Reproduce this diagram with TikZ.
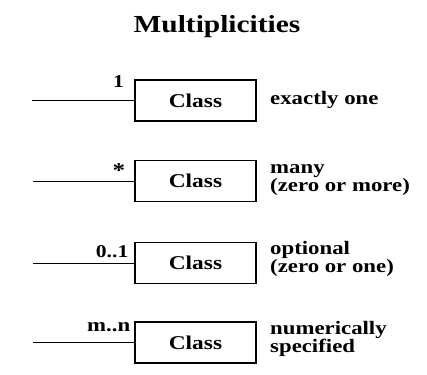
\documentclass[tikz,border=0pt]{standalone}
\usepackage{fontspec}
\setmainfont[FakeStretch=1.2]{Liberation Serif}
\begin{document}
\begin{tikzpicture}[x=1pt,y=-1pt,
  classbox/.style={draw,line width=1.2pt,minimum width=121pt,minimum height=41pt,inner sep=0pt,font=\fontsize{19.5}{19.5}\selectfont\bfseries},
  mult/.style={anchor=base east,inner sep=0pt,font=\fontsize{18}{18}\selectfont\bfseries},
  desc/.style={anchor=north west,inner sep=0pt,align=left,font=\fontsize{19}{14.5}\selectfont\bfseries},
  assoc/.style={line width=0.9pt}]
\useasboundingbox (0,0) rectangle (427,374);
\node[font=\fontsize{24.5}{24.5}\selectfont\bfseries,anchor=base] (title) at (217,33) {Multiplicities};
% row 1
\node[classbox] (c1) at (195.5,100.5) {Class};
\coordinate (e1) at (32,100.5);
\draw[assoc] (e1) -- (c1.west);
\node[mult] (m1) at (124,88) {1};
\node[desc,anchor=base west] (d1) at (270,105) {exactly one};
% row 2
\node[classbox] (c2) at (195.5,181) {Class};
\coordinate (e2) at (33,181);
\draw[assoc] (e2) -- (c2.west);
\node[mult,font=\fontsize{21}{21}\selectfont\bfseries] (m2) at (125.5,177) {*};
\node[desc] (d2) at (270,164) {many\\(zero or more)};
% row 3
\node[classbox] (c3) at (195.5,263) {Class};
\coordinate (e3) at (33,263);
\draw[assoc] (e3) -- (c3.west);
\node[mult] (m3) at (128.5,257) {0..1};
\node[desc] (d3) at (270,241) {optional\\(zero or one)};
% row 4
\node[classbox] (c4) at (195.5,342.5) {Class};
\coordinate (e4) at (33,342.5);
\draw[assoc] (e4) -- (c4.west);
\node[mult,font=\fontsize{19}{19}\selectfont\bfseries] (m4) at (130.5,331) {m..n};
\node[desc] (d4) at (270,321) {numerically\\specified};
\end{tikzpicture}
\end{document}
